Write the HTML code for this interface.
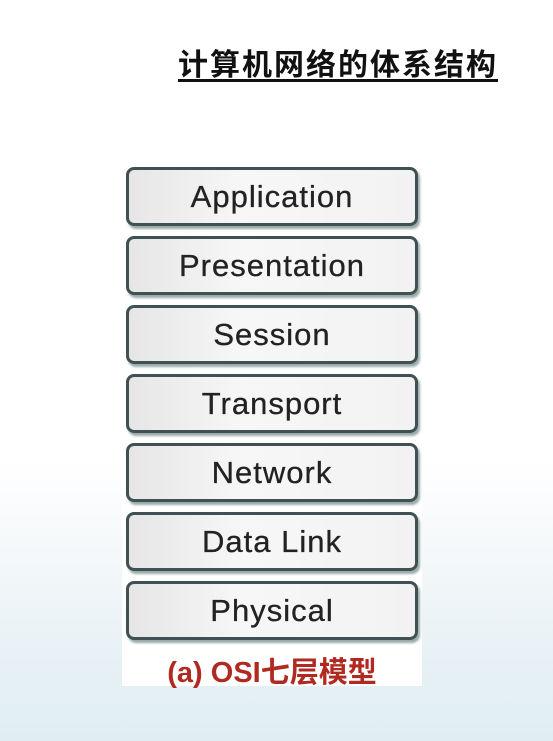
<!DOCTYPE html>
<html><head><meta charset="utf-8"><style>
body{margin:0;width:553px;height:741px;overflow:hidden;position:relative;
background:linear-gradient(180deg,#ffffff 0%,#ffffff 62%,#f4f8fa 75%,#e8f1f5 88%,#e0eef3 100%);
font-family:"Liberation Sans","Noto Sans CJK SC",sans-serif;}
.title{position:absolute;left:178px;top:40px;font-size:30px;font-weight:bold;color:#111;letter-spacing:2px;text-decoration:underline;text-underline-offset:4px;white-space:nowrap}
.panel{position:absolute;left:122px;top:160px;width:300px;height:526px;background:#fff}
.box{position:absolute;left:126px;width:286px;height:53px;border:3px solid #3f5152;border-radius:8px;
background:linear-gradient(90deg,#e6e6e6,#f7f7f7 40%,#f2f2f2);box-shadow:2px 3px 2px #9aa;
text-align:center;line-height:53px;font-size:31px;letter-spacing:1px;color:#222;-webkit-text-stroke:0.3px #222}
.cap{position:absolute;left:122px;width:300px;top:649px;text-align:center;font-size:29px;font-weight:bold;color:#b02a22}
</style></head><body>
<div class="title">计算机网络的体系结构</div>
<div class="panel"></div>
<div class="box" style="top:167px">Application</div>
<div class="box" style="top:236px">Presentation</div>
<div class="box" style="top:305px">Session</div>
<div class="box" style="top:374px">Transport</div>
<div class="box" style="top:443px">Network</div>
<div class="box" style="top:512px">Data Link</div>
<div class="box" style="top:581px">Physical</div>
<div class="cap">(a) OSI七层模型</div>
</body></html>
